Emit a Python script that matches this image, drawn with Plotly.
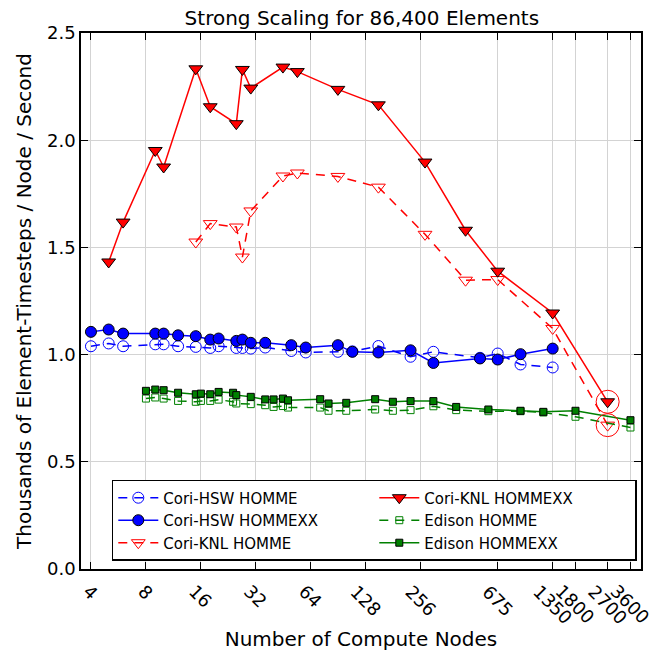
import math
import plotly.graph_objects as go

# ---------------- data ----------------
hsw_nodes = [4, 5, 6, 9, 10, 12, 15, 18, 20, 25, 27, 30, 36, 50, 60, 90, 108, 150, 225, 300, 540, 675, 900, 1350]
hsw_homme = [1.039, 1.052, 1.039, 1.048, 1.048, 1.039, 1.036, 1.031, 1.039, 1.031, 1.031, 1.028,
             1.033, 1.017, 1.010, 1.013, 1.015, 1.040, 0.990, 1.013, 0.985, 1.005, 0.954, 0.940]
hsw_hommexx = [1.106, 1.117, 1.098, 1.098, 1.098, 1.090, 1.086, 1.070, 1.075, 1.064, 1.070, 1.055,
               1.055, 1.044, 1.033, 1.044, 1.013, 1.010, 1.020, 0.961, 0.982, 0.977, 1.002, 1.028]

knl_xx_nodes = [5, 6, 9, 10, 15, 18, 25, 27, 30, 45, 54, 90, 150, 270, 450, 675, 1350, 2700]
knl_hommexx = [1.432, 1.618, 1.952, 1.875, 2.333, 2.156, 2.077, 2.330, 2.243, 2.341, 2.320, 2.237,
               2.165, 1.898, 1.580, 1.389, 1.194, 0.780]
knl_nodes = [15, 18, 25, 27, 30, 45, 54, 90, 150, 270, 450, 675, 1350, 2700]
knl_homme = [1.525, 1.611, 1.595, 1.455, 1.670, 1.833, 1.847, 1.831, 1.781, 1.561, 1.347, 1.350, 1.122, 0.671]

edison_nodes = [8, 9, 10, 12, 15, 16, 18, 20, 24, 25, 30, 36, 40, 45, 48, 72, 80, 100, 144, 180,
                225, 300, 400, 600, 900, 1200, 1800, 3600]
edison_hommexx = [0.831, 0.837, 0.834, 0.822, 0.815, 0.818, 0.815, 0.826, 0.822, 0.811, 0.803, 0.791,
                  0.791, 0.795, 0.787, 0.792, 0.772, 0.775, 0.792, 0.780, 0.783, 0.783, 0.756, 0.744,
                  0.738, 0.733, 0.738, 0.694]
edison_homme = [0.795, 0.800, 0.795, 0.784, 0.780, 0.784, 0.784, 0.790, 0.780, 0.772, 0.769, 0.764,
                0.756, 0.760, 0.753, 0.753, 0.738, 0.738, 0.744, 0.738, 0.741, 0.759, 0.741, 0.736,
                0.736, 0.730, 0.710, 0.660]

highlight_nodes = [2700, 2700]
highlight_vals = [0.780, 0.671]

x_ticks = [4, 8, 16, 32, 64, 128, 256, 675, 1350, 1800, 2700, 3600]
y_ticks = [0.0, 0.5, 1.0, 1.5, 2.0, 2.5]

FONT = "DejaVu Sans"
BLUE, RED, GREEN = "#0000ff", "#ff0000", "#008000"

fig = go.Figure()

def add(name, x, y, color, symbol, filled, dashed, size, rank):
    fig.add_trace(go.Scatter(
        x=x, y=y, name=name, mode="lines+markers", legendrank=rank,
        line=dict(color=color, width=1.5, dash="9px,7px" if dashed else "solid"),
        marker=dict(symbol=symbol, size=size, color=color,
                    line=dict(color="black" if filled else color, width=1)),
    ))

add("Cori-HSW HOMME", hsw_nodes, hsw_homme, BLUE, "circle-open", False, True, 11, 1)
add("Cori-HSW HOMMEXX", hsw_nodes, hsw_hommexx, BLUE, "circle", True, False, 11, 3)
add("Cori-KNL HOMME", knl_nodes, knl_homme, RED, "triangle-down-open", False, True, 12, 5)
add("Cori-KNL HOMMEXX", knl_xx_nodes, knl_hommexx, RED, "triangle-down", True, False, 12, 2)
add("Edison HOMME", edison_nodes, edison_homme, GREEN, "square-open", False, True, 7, 4)
add("Edison HOMMEXX", edison_nodes, edison_hommexx, GREEN, "square", True, False, 7, 6)

fig.add_trace(go.Scatter(
    x=highlight_nodes, y=highlight_vals, mode="markers", showlegend=False, hoverinfo="skip",
    marker=dict(symbol="circle-open", size=23, color=RED, line=dict(color=RED, width=1)),
))

# rotated x tick labels, centred under their ticks
for n in x_ticks:
    fig.add_annotation(x=math.log10(n), y=0, xref="x", yref="paper", yshift=-9,
                       text=str(n), showarrow=False, textangle=45,
                       xanchor="center", yanchor="top",
                       font=dict(family=FONT, size=18, color="black"))

fig.update_layout(
    width=652, height=654,
    margin=dict(l=81, r=9, t=33, b=85),
    paper_bgcolor="white", plot_bgcolor="white",
    font=dict(family=FONT, color="black"),
    title=dict(text="Strong Scaling for 86,400 Elements", x=0.555, xanchor="center",
               y=0.973, yanchor="middle", yref="container",
               font=dict(family=FONT, size=20, color="black")),
    showlegend=True,
    legend=dict(orientation="h", x=0.055, y=0.015, xanchor="left", yanchor="bottom",
                entrywidth=206, bordercolor="black", borderwidth=1.5, bgcolor="white",
                font=dict(family=FONT, size=15, color="black"), traceorder="normal",
                itemwidth=40, tracegroupgap=0),
    xaxis=dict(type="log", range=[0.5475, 3.614], tickvals=x_ticks, showticklabels=False,
               ticks="inside", ticklen=7, tickwidth=1, tickcolor="black",
               showline=True, linecolor="black", linewidth=1.5, mirror="ticks",
               showgrid=True, gridcolor="#d3d3d3", gridwidth=1, zeroline=False,
               title=dict(text="Number of Compute Nodes", standoff=62,
                          font=dict(family=FONT, size=20, color="black"))),
    yaxis=dict(range=[0, 2.5], tickvals=y_ticks, tickformat=".1f",
               ticks="inside", ticklen=7, tickwidth=1, tickcolor="black",
               showline=True, linecolor="black", linewidth=1.5, mirror="ticks",
               showgrid=True, gridcolor="#d3d3d3", gridwidth=1, zeroline=False,
               tickfont=dict(family=FONT, size=18, color="black"),
               title=dict(text="Thousands of Element-Timesteps / Node / Second", standoff=10,
                          font=dict(family=FONT, size=20, color="black"))),
)

fig.write_html("out.html")
